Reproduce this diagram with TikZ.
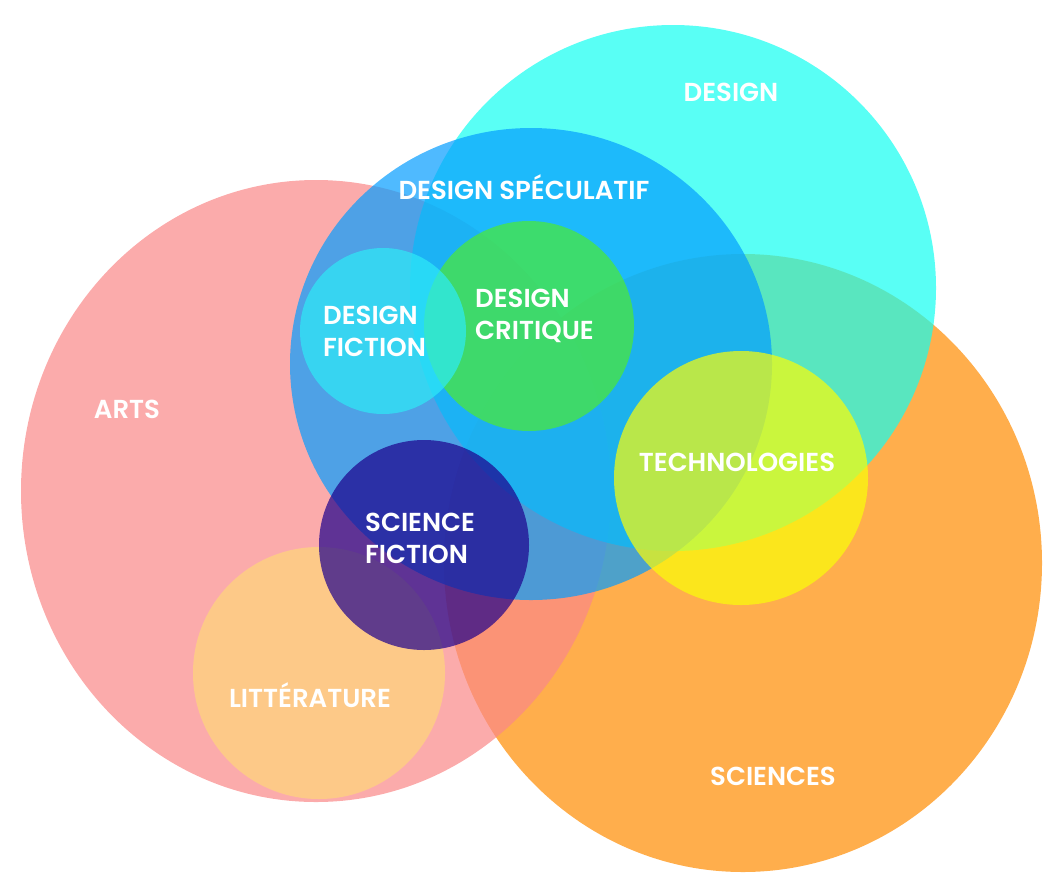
\documentclass[tikz,border=0pt]{standalone}
\usepackage{fontspec}
\usetikzlibrary{shapes.geometric}
\newfontfamily\labfont{Poppins SemiBold}
\definecolor{cOrange}{RGB}{255,139,0}
\definecolor{cPink}{RGB}{250,136,136}
\definecolor{cCyan}{RGB}{19,255,241}
\definecolor{cBlue}{RGB}{4,157,255}
\definecolor{cLit}{RGB}{255,215,121}
\definecolor{cGreen}{RGB}{76,235,49}
\definecolor{cDF}{RGB}{45,235,247}
\definecolor{cTech}{RGB}{251,254,7}
\definecolor{cSF}{RGB}{29,0,141}
\begin{document}
\begin{tikzpicture}[x=1pt,y=-1pt,
  disc/.style={circle, inner sep=0pt, draw=none, fill opacity=0.7},
  oval/.style={ellipse, inner sep=0pt, draw=none, fill opacity=0.7},
  lab/.style={text=white, inner sep=0pt, font=\labfont\fontsize{26}{31.5}\selectfont},
  lab2/.style={lab, align=left, anchor=west}]
\useasboundingbox (0,0) rectangle (1062,892);
% circles
\node[oval, fill=cOrange, minimum width=598pt, minimum height=618pt] (sciences) at (743,563) {};
\node[oval, fill=cPink,   minimum width=590pt, minimum height=622pt] (arts)     at (316,491) {};
\node[disc, fill=cCyan,   minimum size=526pt] (design)   at (673,288) {};
\node[oval, fill=cBlue,   minimum width=482pt, minimum height=472pt] (spec) at (531,364) {};
\node[disc, fill=cLit,    minimum size=252pt] (lit)      at (319,673) {};
\node[disc, fill=cGreen,  minimum size=210pt] (critique) at (529,326) {};
\node[disc, fill=cDF,     minimum size=166pt] (dfiction) at (383,331) {};
\node[disc, fill=cTech,   minimum size=254pt] (tech)     at (741,478) {};
\node[disc, fill=cSF,     minimum size=210pt] (sfiction) at (424,545) {};
% labels
\node[lab, anchor=base] (tdesign) at (731,101) {DESIGN};
\node[lab, anchor=base] (tspec)   at (524,199) {DESIGN SPÉCULATIF};
\node[lab2] (tdf) at (323,331.5) {DESIGN\\FICTION};
\node[lab2] (tdc) at (475,316) {DESIGN\\CRITIQUE};
\node[lab, anchor=base] (tarts)   at (127,418) {ARTS};
\node[lab, anchor=base] (ttech)   at (737,471) {TECHNOLOGIES};
\node[lab2] (tsf) at (365,538.5) {SCIENCE\\FICTION};
\node[lab, anchor=base] (tlit)    at (310,707) {LITTÉRATURE};
\node[lab, anchor=base] (tsci)    at (773,785) {SCIENCES};
\end{tikzpicture}
\end{document}
